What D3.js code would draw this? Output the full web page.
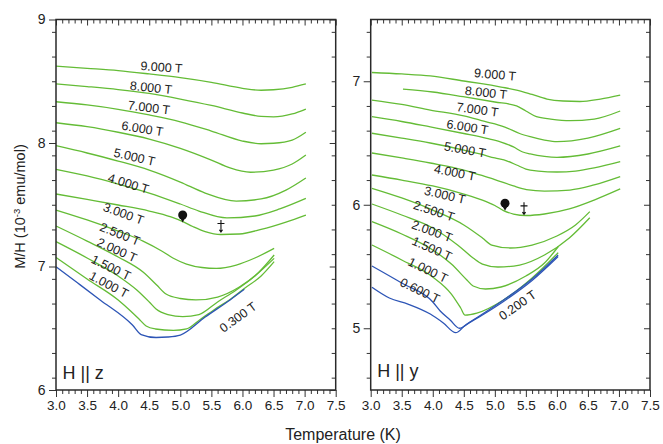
<!DOCTYPE html>
<html>
<head>
<meta charset="utf-8">
<script src="https://cdn.jsdelivr.net/npm/d3@7/dist/d3.min.js"></script>
<style>
  body { margin: 0; background: #fff; }
  svg text { font-family: "Liberation Sans", Arial, Helvetica, sans-serif; fill: #222; }
</style>
</head>
<body>
<svg id="chart" width="663" height="444"></svg>
<script>
// ---- tick labels ----
const tempTicks = [3.0, 3.5, 4.0, 4.5, 5.0, 5.5, 6.0, 6.5, 7.0, 7.5];
const zAxisTicks = [6, 7, 8, 9];
const yAxisTicks = [5, 6, 7];

// ---- H || z : M/H (1e-3 emu/mol) vs temperature (K), one array per field ----
const zFields = ["9.000 T", "8.000 T", "7.000 T", "6.000 T", "5.000 T", "4.000 T", "3.000 T",
                 "2.500 T", "2.000 T", "1.500 T", "1.000 T", "0.300 T"];
const z9T = [[3.0,8.623],[3.5,8.605],[4.0,8.586],[4.5,8.559],[5.0,8.529],[5.5,8.491],[6.0,8.443],[6.3,8.427],[6.5,8.431],[6.8,8.451],[7.02,8.478]];
const z8T = [[3.0,8.478],[3.5,8.457],[4.0,8.433],[4.5,8.401],[5.0,8.356],[5.5,8.304],[6.0,8.243],[6.3,8.215],[6.5,8.211],[6.8,8.235],[7.02,8.275]];
const z7T = [[3.0,8.334],[3.5,8.308],[4.0,8.273],[4.5,8.227],[5.0,8.172],[5.5,8.097],[6.0,8.016],[6.3,7.994],[6.5,7.998],[6.8,8.024],[7.02,8.087]];
const z6T = [[3.0,8.164],[3.5,8.132],[4.0,8.087],[4.5,8.032],[5.0,7.957],[5.5,7.862],[5.8,7.798],[6.13,7.763],[6.5,7.781],[6.8,7.830],[7.02,7.903]];
const z5T = [[3.0,7.978],[3.5,7.919],[4.0,7.854],[4.5,7.781],[5.0,7.684],[5.4,7.595],[5.9,7.530],[6.3,7.547],[6.7,7.619],[7.02,7.717]];
const z4T = [[3.0,7.787],[3.5,7.733],[4.0,7.668],[4.5,7.595],[5.0,7.506],[5.3,7.449],[5.75,7.393],[6.2,7.409],[6.6,7.466],[7.02,7.551]];
const z3T = [[3.0,7.587],[3.5,7.543],[4.0,7.498],[4.5,7.449],[4.85,7.401],[5.04,7.363],[5.2,7.324],[5.4,7.283],[5.65,7.259],[5.95,7.263],[6.3,7.300],[6.7,7.360],[7.02,7.417]];
const z2p5T = [[3.0,7.457],[3.5,7.377],[4.0,7.287],[4.4,7.206],[4.7,7.126],[4.88,7.069],[5.1,7.020],[5.35,6.992],[5.58,6.985],[5.9,7.012],[6.2,7.069],[6.51,7.147]];
const z2T = [[3.0,7.328],[3.5,7.206],[4.0,7.077],[4.4,6.955],[4.62,6.850],[4.77,6.777],[5.0,6.741],[5.25,6.729],[5.6,6.753],[5.95,6.834],[6.25,6.947],[6.51,7.093]];
const z1p5T = [[3.0,7.201],[3.5,7.069],[4.0,6.923],[4.3,6.810],[4.5,6.713],[4.61,6.656],[4.8,6.611],[5.04,6.594],[5.3,6.611],[5.6,6.713],[5.9,6.810],[6.2,6.923],[6.51,7.066]];
const z1T = [[3.0,7.074],[3.5,6.899],[4.0,6.729],[4.2,6.640],[4.35,6.567],[4.45,6.518],[4.6,6.494],[4.89,6.482],[5.1,6.494],[5.32,6.571],[5.55,6.652],[5.8,6.733],[6.03,6.822],[6.3,6.923],[6.51,7.039]];
const z0p3T = [[3.0,6.998],[3.35,6.866],[3.71,6.729],[4.23,6.526],[4.37,6.449],[4.61,6.425],[4.8,6.429],[5.0,6.445],[5.4,6.591],[5.8,6.729],[6.03,6.815]];
const zSeries = [z9T, z8T, z7T, z6T, z5T, z4T, z3T, z2p5T, z2T, z1p5T, z1T, z0p3T];

// ---- H || y ----
const yFields = ["9.000 T", "8.000 T", "7.000 T", "6.000 T", "5.000 T", "4.000 T", "3.000 T",
                 "2.500 T", "2.000 T", "1.500 T", "1.000 T", "0.600 T", "0.200 T"];
const y9T = [[3.02,7.071],[3.5,7.059],[3.96,7.043],[4.5,7.002],[4.76,6.982],[5.1,6.953],[5.35,6.929],[5.6,6.893],[5.84,6.856],[6.1,6.840],[6.37,6.836],[6.7,6.856],[7.02,6.888]];
const y8T = [[3.52,6.937],[4.0,6.913],[4.49,6.875],[5.0,6.832],[5.35,6.800],[5.5,6.759],[5.67,6.713],[5.9,6.694],[6.21,6.681],[6.6,6.694],[7.02,6.759]];
const y7T = [[3.02,6.848],[3.5,6.812],[3.96,6.767],[4.5,6.719],[4.76,6.686],[5.0,6.654],[5.2,6.621],[5.4,6.577],[5.57,6.551],[5.8,6.524],[6.0,6.511],[6.5,6.540],[7.02,6.619]];
const y6T = [[3.02,6.713],[3.5,6.674],[3.96,6.630],[4.5,6.577],[4.87,6.538],[5.1,6.508],[5.3,6.468],[5.45,6.427],[5.57,6.411],[5.8,6.391],[6.0,6.384],[6.5,6.411],[7.02,6.476]];
const y5T = [[3.02,6.579],[3.5,6.540],[3.96,6.500],[4.5,6.443],[4.76,6.411],[5.0,6.379],[5.2,6.354],[5.35,6.322],[5.5,6.289],[5.7,6.273],[6.0,6.265],[6.3,6.273],[6.6,6.298],[7.02,6.349]];
const y4T = [[3.02,6.419],[3.5,6.379],[3.96,6.338],[4.5,6.281],[4.76,6.241],[5.0,6.204],[5.3,6.152],[5.51,6.123],[5.8,6.111],[6.21,6.119],[6.6,6.160],[7.02,6.227]];
const y3T = [[3.02,6.241],[3.5,6.200],[4.0,6.152],[4.5,6.087],[4.8,6.038],[5.0,5.994],[5.14,5.953],[5.3,5.925],[5.51,5.913],[5.8,5.925],[6.2,5.966],[6.6,6.038],[7.02,6.128]];
const y2p5T = [[3.02,6.133],[3.5,6.055],[4.0,5.957],[4.5,5.836],[4.8,5.731],[4.95,5.674],[5.25,5.650],[5.6,5.674],[6.0,5.747],[6.3,5.836],[6.53,5.944]];
const y2T = [[3.02,6.006],[3.5,5.917],[4.0,5.812],[4.4,5.674],[4.65,5.569],[4.8,5.520],[5.05,5.496],[5.4,5.512],[5.8,5.593],[6.2,5.731],[6.53,5.895]];
const y1p5T = [[3.02,5.863],[3.5,5.763],[4.0,5.634],[4.3,5.520],[4.55,5.391],[4.65,5.342],[4.85,5.318],[5.1,5.334],[5.5,5.423],[5.8,5.528],[6.02,5.660]];
const y1T = [[3.02,5.674],[3.5,5.553],[4.0,5.415],[4.3,5.277],[4.45,5.164],[4.52,5.107],[4.71,5.123],[5.14,5.229],[5.6,5.407],[6.02,5.612]];
const y0p6T = [[3.02,5.504],[3.5,5.366],[4.0,5.213],[4.12,5.140],[4.28,5.067],[4.43,5.000],[4.6,5.051],[4.9,5.148],[5.14,5.229],[5.6,5.399],[6.02,5.593]];
const y0p2T = [[3.02,5.332],[3.3,5.245],[3.6,5.196],[3.96,5.115],[4.17,5.043],[4.37,4.964],[4.52,5.022],[4.8,5.107],[5.14,5.217],[5.6,5.387],[6.02,5.581]];
const ySeries = [y9T, y8T, y7T, y6T, y5T, y4T, y3T, y2p5T, y2T, y1p5T, y1T, y0p6T, y0p2T];

// ---- field label anchors [T, M/H, angle] ----
const zLabelAnchors = [[4.697,8.615,4],[4.528,8.449,6],[4.496,8.287,7],[4.392,8.117,9],[4.263,7.887,13],[4.166,7.672,17],
                       [4.086,7.429,20],[4.030,7.263,22],[3.981,7.134,24],[3.885,6.992,26],[3.853,6.854,28],[5.928,6.591,-36]];
const yLabelAnchors = [[5.003,7.055,5],[4.858,6.909,6],[4.721,6.771,8],[4.560,6.630,9],[4.519,6.447,10],[4.358,6.261,11],
                       [4.197,6.079,13],[4.020,5.950,18],[3.988,5.787,20],[3.988,5.646,24],[3.923,5.472,26],[3.794,5.306,26],[5.365,5.188,-35]];

// ---- transition markers [T, M/H] ----
const zDot = [5.038, 7.417], zDagger = [5.654, 7.328];
const yDot = [5.164, 6.012], yDagger = [5.47, 5.971];

const GREEN = "#64bc36", BLUE = "#2d55b6", INK = "#222";
const svg = d3.select("#chart");

function drawPanel(cfg) {
  const x = d3.scaleLinear().domain([3.0, 7.5]).range(cfg.xr);
  const y = d3.scaleLinear().domain(cfg.yd).range([390, 19.5]);
  const g = svg.append("g");

  // curves
  const line = d3.line().x(d => x(d[0])).y(d => y(d[1])).curve(d3.curveMonotoneX);
  cfg.series.forEach((s, i) => {
    g.append("path").attr("d", line(s)).attr("fill", "none")
      .attr("stroke", cfg.blue.includes(i) ? BLUE : GREEN)
      .attr("stroke-width", 1.3).attr("stroke-linejoin", "round");
  });

  // field labels
  cfg.labels.forEach((t, i) => {
    const a = cfg.anchors[i];
    g.append("text").text(t)
      .attr("transform", `translate(${x(a[0])},${y(a[1])}) rotate(${a[2]})`)
      .attr("text-anchor", "middle").attr("dy", "0.35em")
      .style("font-size", "12.5px");
  });

  // markers
  const dx = x(cfg.dot[0]), dy = y(cfg.dot[1]);
  g.append("circle").attr("cx", dx).attr("cy", dy).attr("r", 4.5).attr("fill", "#111");
  g.append("path").attr("d", `M${dx-2.7},${dy+2.5}L${dx+2.7},${dy+2.5}L${dx},${dy+7.5}Z`).attr("fill", "#111");
  const gx = x(cfg.dagger[0]), gy = y(cfg.dagger[1]);
  g.append("path")
    .attr("d", `M${gx},${gy-6}V${gy+6}M${gx-3.5},${gy-2.5}H${gx+3.5}M${gx-1.6},${gy+3.8}L${gx},${gy+6}L${gx+1.6},${gy+3.8}`)
    .attr("fill", "none").attr("stroke", "#111").attr("stroke-width", 1.1);

  // axes
  const minorX = d3.range(3.0, 7.55, 0.1).filter(v => Math.abs(v * 2 - Math.round(v * 2)) > 1e-6);
  const minorY = d3.range(cfg.yd[0] + 0.1, cfg.yd[1] - 0.05, 0.2).filter(v => Math.abs(v - Math.round(v)) > 1e-6);
  const styleAxis = sel => {
    sel.select(".domain").remove();
    sel.selectAll("line").attr("stroke", "#333").attr("stroke-width", 1);
  };
  g.append("g").attr("transform", "translate(0,390)")
    .call(d3.axisBottom(x).tickValues(tempTicks).tickSize(7).tickPadding(3).tickFormat(d3.format(".1f")))
    .call(styleAxis).selectAll("text").style("font-size", "13.5px").attr("fill", INK);
  g.append("g").attr("transform", "translate(0,390)")
    .call(d3.axisBottom(x).tickValues(minorX).tickSize(4).tickFormat("")).call(styleAxis);
  g.append("g").attr("transform", "translate(0,19.5)")
    .call(d3.axisTop(x).tickValues(tempTicks).tickSize(-6).tickFormat("")).call(styleAxis);
  g.append("g").attr("transform", "translate(0,19.5)")
    .call(d3.axisTop(x).tickValues(minorX).tickSize(-4).tickFormat("")).call(styleAxis);
  g.append("g").attr("transform", `translate(${cfg.xr[0]},0)`)
    .call(d3.axisLeft(y).tickValues(cfg.yTicks).tickSize(7).tickPadding(3.5).tickFormat(d3.format("d")))
    .call(styleAxis).selectAll("text").style("font-size", "14px").attr("fill", INK);
  g.append("g").attr("transform", `translate(${cfg.xr[0]},0)`)
    .call(d3.axisLeft(y).tickValues(minorY).tickSize(4).tickFormat("")).call(styleAxis);
  g.append("g").attr("transform", `translate(${cfg.xr[1]},0)`)
    .call(d3.axisRight(y).tickValues(cfg.yTicks).tickSize(-6).tickFormat("")).call(styleAxis);
  g.append("g").attr("transform", `translate(${cfg.xr[1]},0)`)
    .call(d3.axisRight(y).tickValues(minorY).tickSize(-4).tickFormat("")).call(styleAxis);

  // frame
  g.append("rect").attr("x", cfg.xr[0]).attr("y", 19.5)
    .attr("width", cfg.xr[1] - cfg.xr[0]).attr("height", 390 - 19.5)
    .attr("fill", "none").attr("stroke", "#2a2a2a").attr("stroke-width", 1.5);

  // panel tag
  g.append("text").text(cfg.tag).attr("x", cfg.xr[0] + 6.5).attr("y", cfg.tagY)
    .style("font-size", "18px");
}

drawPanel({ xr: [56, 335.7], yd: [6, 9], yTicks: zAxisTicks, series: zSeries, labels: zFields,
            anchors: zLabelAnchors, blue: [11], dot: zDot, dagger: zDagger, tag: "H || z", tagY: 379 });
drawPanel({ xr: [370.7, 650], yd: [4.5, 7.5], yTicks: yAxisTicks, series: ySeries, labels: yFields,
            anchors: yLabelAnchors, blue: [11, 12], dot: yDot, dagger: yDagger, tag: "H || y", tagY: 376.5 });

// axis titles
const yTitle = svg.append("text").attr("transform", "translate(25,206.5) rotate(-90)")
  .attr("text-anchor", "middle").style("font-size", "14.5px");
yTitle.append("tspan").text("M/H (10");
yTitle.append("tspan").text("-3").attr("baseline-shift", "super").style("font-size", "9.5px");
yTitle.append("tspan").text(" emu/mol)");

svg.append("text").text("Temperature (K)").attr("x", 343).attr("y", 439.5)
  .attr("text-anchor", "middle").style("font-size", "16px");
</script>
</body>
</html>
